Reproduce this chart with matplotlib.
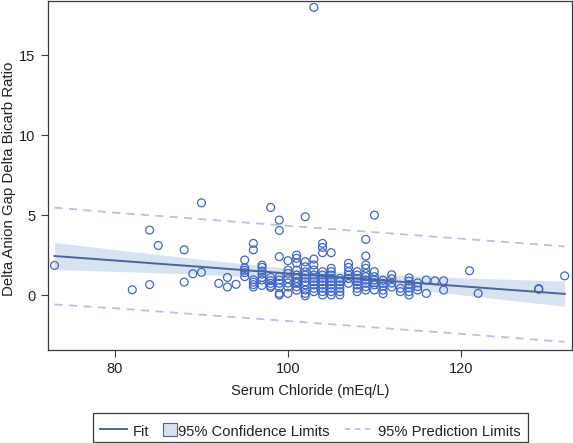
import matplotlib
matplotlib.use("Agg")
import matplotlib.pyplot as plt
from matplotlib.lines import Line2D
from matplotlib.patches import Rectangle
import numpy as np

plt.rcParams['font.family'] = ['Liberation Sans', 'DejaVu Sans']

# Scatter data: serum chloride column -> list of ratios
chloride_cols = [73, 82, 84, 85, 88, 89, 90, 92, 93, 94, 95, 96, 97, 98, 99, 100,
                 101, 102, 103, 104, 105, 106, 107, 108, 109, 110, 111, 112, 113,
                 114, 115, 116, 117, 118, 121, 122, 129, 132]
ratio_cols = [
    [1.85],
    [0.33],
    [4.06, 0.65],
    [3.1],
    [2.83, 0.81],
    [1.33],
    [5.77, 1.42],
    [0.73],
    [1.1, 0.5],
    [0.67],
    [2.19, 1.7, 1.55, 1.4, 1.15],
    [3.23, 2.83, 0.95, 0.8, 0.65, 0.5],
    [1.87, 1.73, 1.5, 1.3, 1.1, 0.94, 0.6],
    [5.48, 1.1, 0.9, 0.73, 0.56, 0.48],
    [4.69, 4.04, 2.4, 1.15, 0.94, 0.73, 0.48, 0.1, 0.0],
    [2.15, 1.55, 1.35, 1.02, 0.75, 0.5, 0.1],
    [2.5, 2.3, 2.0, 1.56, 1.25, 1.04, 0.85, 0.73, 0.52, 0.3],
    [4.9, 2.08, 1.77, 1.45, 1.25, 1.04, 0.83, 0.63, 0.31, 0.1, -0.05],
    [18.0, 2.25, 1.88, 1.56, 1.25, 1.04, 0.83, 0.63, 0.42, 0.21],
    [3.23, 2.98, 2.65, 1.46, 1.25, 1.04, 0.83, 0.63, 0.42, 0.21, 0.0],
    [2.65, 1.67, 1.46, 1.25, 1.04, 0.83, 0.63, 0.42, 0.21, 0.0],
    [1.04, 0.83, 0.63, 0.42, 0.21, 0.0],
    [1.98, 1.73, 1.46, 1.25, 1.04, 0.73],
    [1.46, 1.25, 1.04, 0.83, 0.63, 0.42, 0.21],
    [3.48, 2.44, 1.88, 1.67, 1.35, 1.15, 0.94, 0.73, 0.52, 0.31],
    [5.0, 1.46, 1.15, 0.94, 0.77, 0.63, 0.31],
    [0.92, 0.73, 0.56, 0.3, 0.08],
    [1.27, 1.02, 0.75, 0.5],
    [0.42, 0.21],
    [1.07, 0.87, 0.66, 0.45, 0.21, 0.0],
    [0.76, 0.52, 0.31],
    [0.94, 0.1],
    [0.89],
    [0.89, 0.31],
    [1.52],
    [0.1],
    [0.4, 0.36],
    [1.2],
]

# Fit, confidence and prediction limits read at these chloride values
band_x = [73, 80, 90, 100, 104, 110, 120, 132]
fit_y = [2.44, 2.16, 1.76, 1.35, 1.19, 0.95, 0.55, 0.07]
ci_upper = [3.29, 2.84, 2.23, 1.68, 1.51, 1.31, 1.08, 0.87]
ci_lower = [1.59, 1.48, 1.29, 1.02, 0.87, 0.59, 0.02, -0.71]
pi_upper = [5.47, 5.15, 4.75, 4.33, 4.17, 3.93, 3.53, 3.04]
pi_lower = [-0.59, -0.83, -1.23, -1.63, -1.79, -2.03, -2.43, -2.93]

x_ticks = [80, 100, 120]
y_ticks = [0, 5, 10, 15]
legend_labels = ['Fit', '95% Confidence Limits', '95% Prediction Limits']

W, H = 573, 443
fig = plt.figure(figsize=(W / 100, H / 100), dpi=100)
left, right, top, bottom = 48, 572, 1, 349.5
ax = fig.add_axes([left / W, 1 - bottom / H, (right - left) / W, (bottom - top) / H])

fit_color = '#4a6596'
band_color = '#d8e3f2'
pred_color = '#b6c0e8'
marker_color = '#4066c8'
frame_color = '#3a3a3a'
text_color = '#222222'

ax.fill_between(band_x, ci_lower, ci_upper, color=band_color, lw=0, zorder=1)
ax.plot(band_x, pi_upper, color=pred_color, lw=1.3, ls=(0, (4.5, 3.5)), zorder=2)
ax.plot(band_x, pi_lower, color=pred_color, lw=1.3, ls=(0, (4.5, 3.5)), zorder=2)

xs, ys = [], []
for cx, vals in zip(chloride_cols, ratio_cols):
    for v in vals:
        xs.append(cx)
        ys.append(v)
ax.scatter(xs, ys, s=32, facecolors='none', edgecolors=marker_color, linewidths=0.9, zorder=3)

ax.plot(band_x, fit_y, color=fit_color, lw=1.4, zorder=4)

ax.set_xlim(72.25, 132.85)
ax.set_ylim(-3.41, 18.4)
ax.set_xticks(x_ticks)
ax.set_yticks(y_ticks)
ax.tick_params(direction='out', length=5, width=0.8, color=frame_color, labelsize=10.5,
               labelcolor=text_color, pad=4)
for sp in ax.spines.values():
    sp.set_color(frame_color)
    sp.set_linewidth(0.9)

ax.set_xlabel('Serum Chloride (mEq/L)', fontsize=10.5, color=text_color, labelpad=6)
fig.text(9 / W, 1 - 179 / H, 'Delta Anion Gap Delta Bicarb Ratio', rotation=90,
         ha='center', va='center', fontsize=10.8, color=text_color)

# Manual legend in figure pixel coordinates
def fx(px):
    return px / W

def fy(py):
    return 1 - py / H

fs = 10.6
fig.add_artist(Rectangle((fx(93.3), fy(441.7)), fx(527.7) - fx(93.3), fy(413.3) - fy(441.7),
                         transform=fig.transFigure, facecolor='white',
                         edgecolor=frame_color, linewidth=0.9))
fig.add_artist(Line2D([fx(100), fx(127)], [fy(429.3), fy(429.3)],
                      transform=fig.transFigure, color=fit_color, lw=1.4))
fig.text(fx(133), fy(436), legend_labels[0], ha='left', va='baseline',
         fontsize=fs, color=text_color)
fig.add_artist(Rectangle((fx(163), fy(436)), fx(176.5) - fx(163), fy(423) - fy(436),
                         transform=fig.transFigure, facecolor=band_color,
                         edgecolor='#556080', linewidth=0.8))
fig.text(fx(178.5), fy(436), legend_labels[1], ha='left', va='baseline',
         fontsize=fs, color=text_color)
fig.add_artist(Line2D([fx(345), fx(370)], [fy(429.3), fy(429.3)],
                      transform=fig.transFigure, color=pred_color, lw=1.3,
                      ls=(0, (3, 2.5))))
fig.text(fx(378), fy(436), legend_labels[2], ha='left', va='baseline',
         fontsize=fs, color=text_color)

fig.savefig('out.png', dpi=100)
